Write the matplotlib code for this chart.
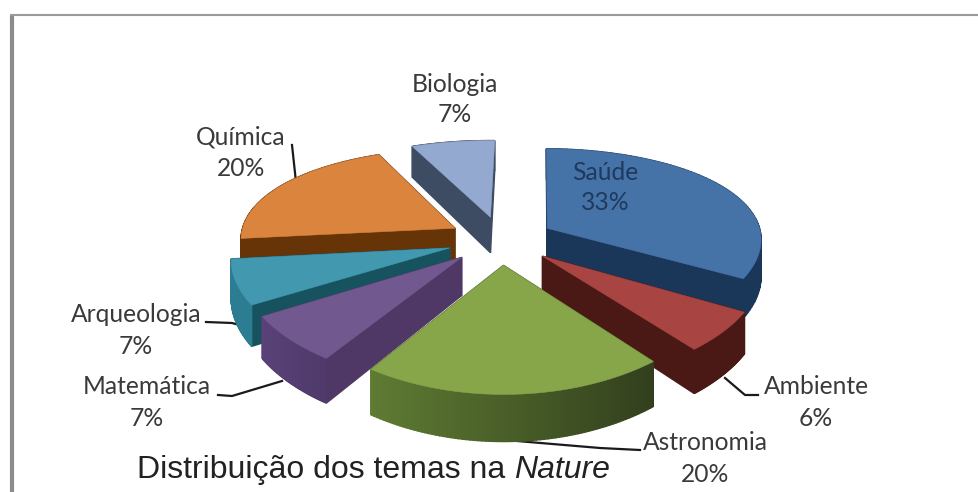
import numpy as np
import matplotlib
matplotlib.use('Agg')
import matplotlib.pyplot as plt
from matplotlib.colors import to_rgb

# Dados
temas = ['Saúde', 'Ambiente', 'Astronomia', 'Matemática', 'Arqueologia', 'Química', 'Biologia']
valores = [33, 6, 20, 7, 7, 20, 7]

# Cores: topo, parede radial, borda (inicio, fim)
cor_topo = ['#4573A7', '#A84442', '#87A64A', '#71588F', '#4198AF', '#DB843D', '#93A9CF']
cor_parede = ['#1A3659', '#4A1915', '#4A5F28', '#4F3866', '#16535F', '#673408', '#3D4C63']
cor_borda_a = ['#1A3659', '#4A1915', '#5F7C33', '#5A4278', '#2D7D92', '#673408', '#3D4C63']
cor_borda_b = ['#1A3659', '#4A1915', '#323F1D', '#4F3A6B', '#2D7D92', '#673408', '#3D4C63']

# Geometria da pizza em pixels
CX, CY = 501, 240
RX, RY = 215, 97
PERSP_X, PERSP_Y = 0.10, 0.172
ALTURA = 37
EXPLODE = 0.25
INICIO = 1.0


def projetar(X, Y, z=0.0):
    d = 1 + PERSP_Y * Y
    sx = CX + RX * X / (1 + PERSP_X * Y)
    sy = CY - RY * Y / d + ALTURA * z / d
    return sx, sy


def desenhar_fatia(ax, a0, a1, i):
    meio = np.radians((a0 + a1) / 2)
    ox, oy = EXPLODE * np.sin(meio), EXPLODE * np.cos(meio)
    ang = np.radians(np.linspace(a0, a1, 80))
    X = ox + np.sin(ang)
    Y = oy + np.cos(ang)

    faces = []
    # paredes radiais
    for k in (0, -1):
        xs = [ox, X[k], X[k], ox]
        ys = [oy, Y[k], Y[k], oy]
        zs = [0, 0, 1, 1]
        px, py = projetar(np.array(xs), np.array(ys), np.array(zs))
        faces.append(((oy + Y[k]) / 2, px, py, cor_parede[i]))
    # borda externa com gradiente
    ca, cb = np.array(to_rgb(cor_borda_a[i])), np.array(to_rgb(cor_borda_b[i]))
    xmin, xmax = X.min(), X.max()
    for j in range(len(ang) - 1):
        xs = np.array([X[j], X[j + 1], X[j + 1], X[j]])
        ys = np.array([Y[j], Y[j + 1], Y[j + 1], Y[j]])
        px, py = projetar(xs, ys, np.array([0, 0, 1, 1]))
        t = (X[j] - xmin) / max(xmax - xmin, 1e-6)
        faces.append(((Y[j] + Y[j + 1]) / 2, px, py, tuple(ca + (cb - ca) * t)))

    for _, px, py, c in sorted(faces, key=lambda f: -f[0]):
        ax.fill(px, py, facecolor=c, edgecolor=c, lw=1.0, zorder=2)

    px, py = projetar(np.r_[ox, X], np.r_[oy, Y])
    ax.fill(px, py, facecolor=cor_topo[i], edgecolor=cor_topo[i], lw=0.4, zorder=2)


fig = plt.figure(figsize=(9.79, 4.92), dpi=100)
ax = fig.add_axes([0, 0, 1, 1])
ax.set_xlim(0, 979)
ax.set_ylim(492, 0)
ax.axis('off')

# Moldura
ax.plot([12, 12], [15, 492], color='#8C8C8C', lw=3, solid_capstyle='butt')
ax.plot([10, 979], [15, 15], color='#9A9A9A', lw=1.5, solid_capstyle='butt')

# Fatias: das mais distantes para as mais proximas
limites = np.cumsum([0] + valores) / sum(valores) * 360 + INICIO
medios = (limites[:-1] + limites[1:]) / 2
ordem = np.argsort(-np.cos(np.radians(medios)))
for i in ordem:
    desenhar_fatia(ax, limites[i], limites[i + 1], i)

# Linhas de chamada
chamadas = [
    ([292, 296], [145, 182]),
    ([206, 232, 243], [322, 323, 326]),
    ([218, 232, 282], [395, 396, 381]),
    ([758, 745, 725], [395, 395, 378]),
    ([640, 600, 505], [450, 448, 440]),
]
for xs, ys in chamadas:
    ax.plot(xs, ys, color='#1A1A1A', lw=1.6, zorder=1)

# Rotulos
pos_rotulos = {
    'Saúde': (605, 172, 203),
    'Ambiente': (816, 386, 418),
    'Astronomia': (705, 442, 475),
    'Matemática': (147, 387, 418),
    'Arqueologia': (136, 315, 347),
    'Química': (241, 137, 169),
    'Biologia': (455, 84, 115),
}
for tema, v in zip(temas, valores):
    x, y1, y2 = pos_rotulos[tema]
    cor = '#1F3A5F' if tema == 'Saúde' else '#3A3A3A'
    ax.text(x, y1, tema, ha='center', va='center', fontsize=17.7, family='Lato', color=cor, zorder=5)
    ax.text(x, y2, f'{v}%', ha='center', va='center', fontsize=17.7, family='Lato', color=cor, zorder=5)

# Titulo
t = ax.text(137, 478, 'Distribuição dos temas na ', fontsize=23, family='Liberation Sans',
            color='#222222', va='baseline', zorder=5)
ax.annotate('Nature', xy=(1, 0), xycoords=t, fontsize=23, family='Liberation Sans', style='italic',
            color='#222222', va='bottom', zorder=5)

fig.savefig('out.png', dpi=100)
